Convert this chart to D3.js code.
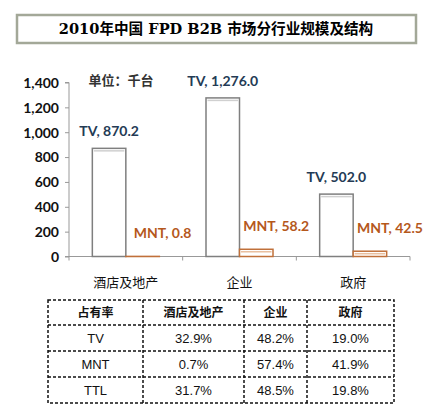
<!DOCTYPE html>
<html>
<head>
<meta charset="utf-8">
<title>2010年中国 FPD B2B 市场分行业规模及结构</title>
<script src="https://cdn.jsdelivr.net/npm/d3@7"></script>
<style>
body { margin: 0; background: #fff; }
svg text { font-family: Lato, "Noto Sans CJK SC", sans-serif; }
.title { font-family: "DejaVu Serif", "Noto Sans CJK SC", serif; font-weight: bold; font-size: 14.6px; }
.ytick { font-weight: bold; font-size: 14px; fill: #111; }
.cat { font-size: 13px; fill: #111; }
.lbl { font-weight: bold; font-size: 14px; }
.tbl { font-family: "Liberation Sans", "Noto Sans CJK SC", sans-serif; font-size: 12px; fill: #111; }
</style>
</head>
<body>
<div id="chart"></div>
<script>
// data
var categories = ["酒店及地产", "企业", "政府"];
var series = ["TV", "MNT"];
var tvValues = [870.2, 1276.0, 502.0];
var mntValues = [0.8, 58.2, 42.5];
var yTicks = [0, 200, 400, 600, 800, 1000, 1200, 1400];

var tableHead = ["占有率", "酒店及地产", "企业", "政府"];
var tableRows = ["TV", "MNT", "TTL"];
var tableValues = [
  ["32.9%", "48.2%", "19.0%"],
  ["0.7%", "57.4%", "41.9%"],
  ["31.7%", "48.5%", "19.8%"]
];

var width = 430, height = 414;
var colors = {TV: "#7f7f7f", MNT: "#c0703a"};
var inner = {TV: "#d0d0d0", MNT: "#e9bf9f"};
var textColors = {TV: "#243b55", MNT: "#b5581c"};

var svg = d3.select("#chart").append("svg")
  .attr("width", width)
  .attr("height", height);

// title box
svg.append("rect")
  .attr("x", 17).attr("y", 15).attr("width", 399).attr("height", 28)
  .attr("fill", "#fff").attr("stroke", "#a3a898").attr("stroke-width", 2.5);
svg.append("text").attr("class", "title")
  .attr("x", 216).attr("y", 34).attr("text-anchor", "middle")
  .text("2010年中国 FPD B2B 市场分行业规模及结构");

var x = d3.scaleBand().domain(categories).range([69, 410]);
var xs = d3.scaleBand().domain(series).range([0, 67]);
var y = d3.scaleLinear().domain([0, 1400]).range([256.5, 82.5]);

// unit
svg.append("text").attr("class", "cat")
  .attr("x", 121).attr("y", 85).attr("text-anchor", "middle")
  .style("font-weight", "bold").style("fill", "#333")
  .text("单位：千台");

// y axis
var yAxis = svg.append("g")
  .attr("transform", "translate(69,0)")
  .call(d3.axisLeft(y).tickValues(yTicks).tickSize(4).tickFormat(d3.format(",")));
yAxis.select(".domain").attr("stroke", "#999").attr("d", "M-4," + y(1400) + "H0V" + y(0) + "H-4");
yAxis.selectAll(".tick line").attr("stroke", "#999");
yAxis.selectAll(".tick text").attr("class", "ytick").attr("x", -10).attr("dy", "0.35em");

// x axis
svg.append("line")
  .attr("x1", 69).attr("x2", 410).attr("y1", y(0)).attr("y2", y(0))
  .attr("stroke", "#999");
svg.selectAll(".xtick").data(categories.concat(["end"])).enter().append("line")
  .attr("x1", function(d, i) { return 69 + i * x.bandwidth(); })
  .attr("x2", function(d, i) { return 69 + i * x.bandwidth(); })
  .attr("y1", y(0)).attr("y2", y(0) + 4)
  .attr("stroke", "#999");
svg.selectAll(".cat-label").data(categories).enter().append("text")
  .attr("class", "cat")
  .attr("x", function(d) { return x(d) + x.bandwidth() / 2; })
  .attr("y", 287).attr("text-anchor", "middle")
  .text(function(d) { return d; });

// bars
var barData = [];
categories.forEach(function(c, i) {
  barData.push({cat: c, s: "TV", v: tvValues[i]});
  barData.push({cat: c, s: "MNT", v: mntValues[i]});
});
var gOff = (x.bandwidth() - 67) / 2;

var bars = svg.selectAll(".bar").data(barData).enter().append("g");
bars.append("rect")
  .attr("x", function(d) { return x(d.cat) + gOff + xs(d.s); })
  .attr("y", function(d) { return y(d.v); })
  .attr("width", xs.bandwidth())
  .attr("height", function(d) { return y(0) - y(d.v); })
  .attr("fill", "#fff")
  .attr("stroke", function(d) { return colors[d.s]; })
  .attr("stroke-width", 1.5);
bars.filter(function(d) { return y(0) - y(d.v) > 5; }).append("line")
  .attr("x1", function(d) { return x(d.cat) + gOff + xs(d.s) + 1.5; })
  .attr("x2", function(d) { return x(d.cat) + gOff + xs(d.s) + xs.bandwidth() - 1.5; })
  .attr("y1", function(d) { return y(d.v) + 2.5; })
  .attr("y2", function(d) { return y(d.v) + 2.5; })
  .attr("stroke", function(d) { return inner[d.s]; })
  .attr("stroke-width", 1.5);

// value labels
bars.append("text").attr("class", "lbl")
  .attr("x", function(d) {
    var cx = x(d.cat) + gOff + xs(d.s) + xs.bandwidth() / 2;
    return d.s == "MNT" ? cx + 20 : cx;
  })
  .attr("y", function(d) { return d.s == "MNT" ? y(d.v) - 18 : y(d.v) - 12; })
  .attr("text-anchor", "middle")
  .attr("fill", function(d) { return textColors[d.s]; })
  .text(function(d) { return d.s + ", " + d.v.toFixed(1).replace(/\B(?=(\d{3})+(?!\d))/, ","); });

// table
var colX = [48, 143, 244, 307, 394];
var rowY = [300, 325, 351, 377, 403];
var tbl = svg.append("g");
tbl.append("rect")
  .attr("x", colX[0]).attr("y", rowY[0])
  .attr("width", colX[4] - colX[0]).attr("height", rowY[4] - rowY[0])
  .attr("fill", "none").attr("stroke", "#111").attr("stroke-width", 1.5)
  .attr("stroke-dasharray", "3,2");
colX.slice(1, 4).forEach(function(cx) {
  tbl.append("line").attr("x1", cx).attr("x2", cx).attr("y1", rowY[0]).attr("y2", rowY[4])
    .attr("stroke", "#111").attr("stroke-width", 1.5).attr("stroke-dasharray", "3,2");
});
rowY.slice(1, 4).forEach(function(ry) {
  tbl.append("line").attr("x1", colX[0]).attr("x2", colX[4]).attr("y1", ry).attr("y2", ry)
    .attr("stroke", "#111").attr("stroke-width", 1.5).attr("stroke-dasharray", "3,2");
});
tableHead.forEach(function(h, j) {
  tbl.append("text").attr("class", "tbl")
    .attr("x", (colX[j] + colX[j + 1]) / 2).attr("y", (rowY[0] + rowY[1]) / 2 + 4)
    .attr("text-anchor", "middle").style("font-weight", "bold")
    .text(h);
});
tableRows.forEach(function(r, i) {
  var cy = (rowY[i + 1] + rowY[i + 2]) / 2 + 4.5;
  tbl.append("text").attr("class", "tbl")
    .attr("x", (colX[0] + colX[1]) / 2).attr("y", cy)
    .attr("text-anchor", "middle").style("font-size", "13px").text(r);
  tableValues[i].forEach(function(v, j) {
    tbl.append("text").attr("class", "tbl")
      .attr("x", (colX[j + 1] + colX[j + 2]) / 2).attr("y", cy)
      .attr("text-anchor", "middle").style("font-size", "13px").text(v);
  });
});
</script>
</body>
</html>
